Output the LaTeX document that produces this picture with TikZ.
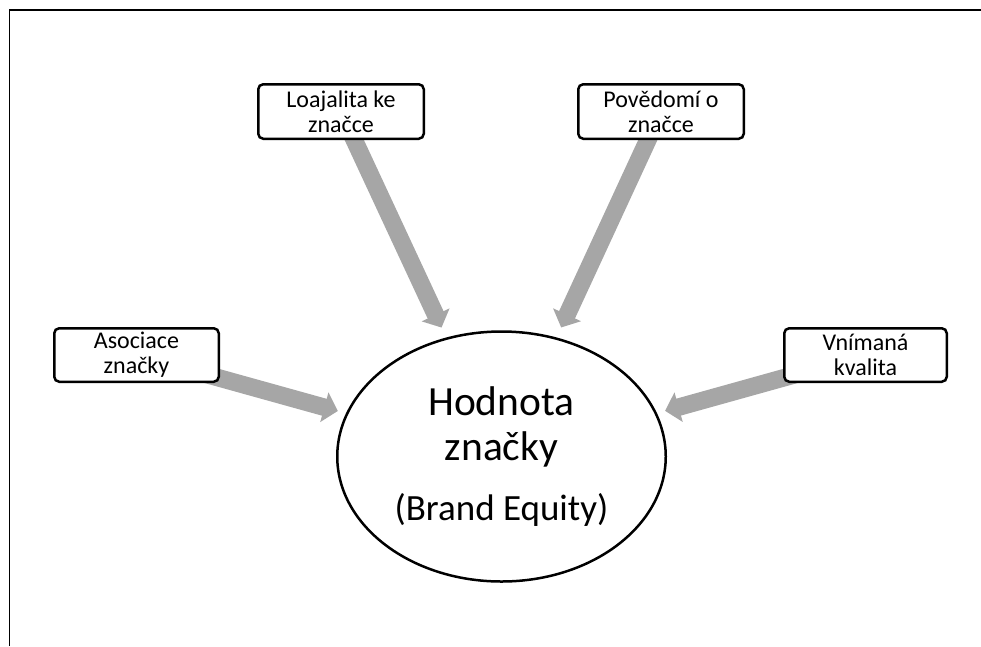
\documentclass[tikz,border=0pt]{standalone}
\usepackage{fontspec}
\setmainfont{Carlito}
\usetikzlibrary{shapes.geometric,arrows.meta,backgrounds}
\definecolor{arrowgray}{HTML}{A6A6A6}
\begin{document}
\begin{tikzpicture}[x=1pt,y=-1pt,
  factor/.style={draw, line width=2.5pt, rounded corners=5pt, fill=white, align=center, inner sep=0pt,
    minimum height=54.5pt, font=\fontsize{24}{25}\selectfont},
  core/.style={draw, ellipse, line width=2.5pt, fill=white, inner sep=0pt, align=center,
    minimum width=328.5pt, minimum height=250pt, font=\fontsize{41.5}{45}\selectfont},
  feed/.style={draw=arrowgray, line width=17.5pt, -{Triangle[length=14pt,width=30pt]}}]
\useasboundingbox (0,0) rectangle (981,646);
\draw[line width=1.8pt] (9.5,646) -- (9.5,10) -- (981,10);
\node[factor, minimum width=165.5pt] (loy) at (341,111.5) {Loajalita ke\\značce};
\node[factor, minimum width=165.5pt] (aware) at (661,111.5) {Povědomí o\\značce};
\node[factor, minimum width=164.5pt, minimum height=53.5pt] (assoc) at (136.5,355) {Asociace\\značky};
\node[factor, minimum width=162.5pt, minimum height=53.5pt] (qual) at (865.5,355) {Vnímaná\\kvalita};
\node[core] (eq) at (501.5,456.5) {Hodnota\\značky\\[15pt]{\fontsize{37}{45}\selectfont(Brand Equity)}};
\begin{scope}[on background layer]
\draw[feed, shorten >=11pt] (loy.center) -- (eq);
\draw[feed, shorten >=11pt] (aware.center) -- (eq);
\draw[feed, shorten >=8.5pt] (assoc.center) -- (eq);
\draw[feed, shorten >=8.5pt] (qual.center) -- (eq);
\end{scope}
\end{tikzpicture}
\end{document}
